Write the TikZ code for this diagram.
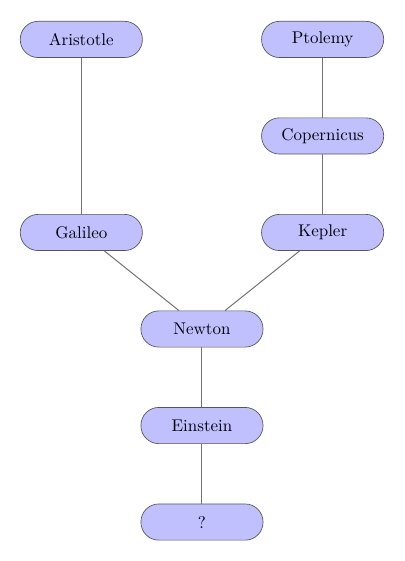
\documentclass[tikz,border=0pt]{standalone}
\usepackage{tikz}
\usetikzlibrary{positioning}
\definecolor{namefill}{RGB}{192,192,255}
\definecolor{nameedge}{RGB}{85,85,95}

\begin{document}
\begin{tikzpicture}[
    on grid,
    node distance=2cm and 2.5cm,
    person/.style={draw=nameedge, fill=namefill, rounded corners=3.7mm,
                   minimum width=2.53cm, minimum height=0.75cm, align=center},
    link/.style={draw=black!55, semithick}
]
    \useasboundingbox (-4.185,-4.807) rectangle (4.206,6.817);

    % Middle line
    \node[person] (newton) at (0,0) {Newton};
    \node[person, below=of newton] (einstein) {Einstein};
    \node[person, below=of einstein] (unknown) {?};

    % Left branch
    \node[person, above left=of newton] (galileo) {Galileo};
    \node[person, above=4cm of galileo] (aristotle) {Aristotle};

    % Right branch
    \node[person, above right=of newton] (kepler) {Kepler};
    \node[person, above=of kepler] (copernicus) {Copernicus};
    \node[person, above=of copernicus] (ptolemy) {Ptolemy};

    % Links
    \draw[link] (aristotle) -- (galileo);
    \draw[link] (ptolemy) -- (copernicus);
    \draw[link] (copernicus) -- (kepler);
    \draw[link] (galileo) -- (newton);
    \draw[link] (kepler) -- (newton);
    \draw[link] (newton) -- (einstein);
    \draw[link] (einstein) -- (unknown);
\end{tikzpicture}
\end{document}
